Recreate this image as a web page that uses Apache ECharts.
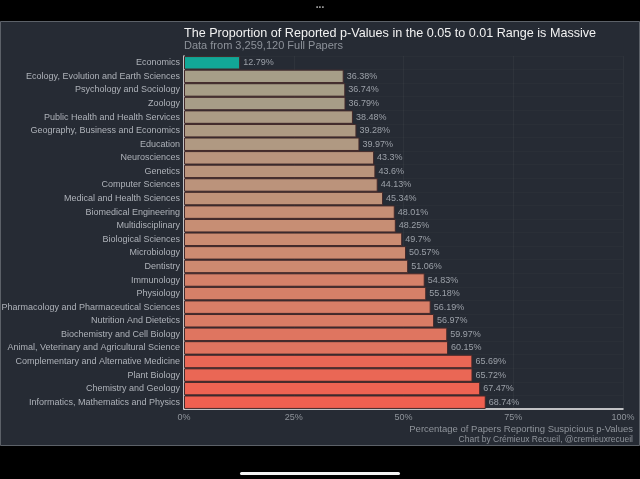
<!DOCTYPE html>
<html>
<head>
<meta charset="utf-8">
<script src="https://cdn.jsdelivr.net/npm/echarts@6/dist/echarts.min.js"></script>
<style>
  html, body { margin: 0; padding: 0; background: #000; }
  #main { width: 640px; height: 479px; }
</style>
</head>
<body>
<div id="main"></div>
<script>
// fields, top to bottom
const fields = [
  'Economics',
  'Ecology, Evolution and Earth Sciences',
  'Psychology and Sociology',
  'Zoology',
  'Public Health and Health Services',
  'Geography, Business and Economics',
  'Education',
  'Neurosciences',
  'Genetics',
  'Computer Sciences',
  'Medical and Health Sciences',
  'Biomedical Engineering',
  'Multidisciplinary',
  'Biological Sciences',
  'Microbiology',
  'Dentistry',
  'Immunology',
  'Physiology',
  'Pharmacology and Pharmaceutical Sciences',
  'Nutrition And Dietetics',
  'Biochemistry and Cell Biology',
  'Animal, Veterinary and Agricultural Science',
  'Complementary and Alternative Medicine',
  'Plant Biology',
  'Chemistry and Geology',
  'Informatics, Mathematics and Physics'
];
const pct = [12.79, 36.38, 36.74, 36.79, 38.48, 39.28, 39.97, 43.3, 43.6, 44.13,
  45.34, 48.01, 48.25, 49.7, 50.57, 51.06, 54.83, 55.18, 56.19, 56.97,
  59.97, 60.15, 65.69, 65.72, 67.47, 68.74];
const xTicks = [0, 25, 50, 75, 100];

// colour ramp: tan -> salmon, economics highlighted
function barColor(v) {
  if (v < 20) return '#12a797';
  const lo = [166, 158, 136], mid = [206, 138, 112], hi = [240, 96, 80];
  let t = (v - 36.38) / (68.74 - 36.38);
  t = Math.max(0, Math.min(1, t));
  let a, b, u;
  if (t < 0.45) { a = lo; b = mid; u = t / 0.45; }
  else { a = mid; b = hi; u = (t - 0.45) / 0.55; }
  const c = a.map((x, i) => Math.round(x + (b[i] - x) * u));
  return 'rgb(' + c.join(',') + ')';
}

let myChart = echarts.init(document.getElementById('main'));
let font = 'Liberation Sans, Arial, sans-serif';
let option = {
  backgroundColor: '#000',
  animation: false,
  textStyle: { fontFamily: font },
  graphic: [
    {
      type: 'rect', z: -10, silent: true,
      shape: { x: 0.5, y: 21.5, width: 639, height: 424 },
      style: { fill: '#262b34', stroke: '#5c6168', lineWidth: 1 }
    },
    {
      type: 'text', left: 'center', top: 0,
      style: { text: '...', fill: '#b0b0b0', font: 'bold 10px ' + font }
    },
    {
      type: 'rect',
      shape: { x: 240, y: 472, width: 160, height: 3, r: 1.5 },
      style: { fill: '#f2f2f2' }
    },
    {
      type: 'text', right: 7, top: 435,
      style: { text: 'Chart by Crémieux Recueil, @cremieuxrecueil', fill: '#8f949b', font: '8.5px ' + font }
    }
  ],
  title: {
    text: 'The Proportion of Reported p-Values in the 0.05 to 0.01 Range is Massive',
    subtext: 'Data from 3,259,120 Full Papers',
    left: 179,
    top: 22,
    itemGap: 0,
    textStyle: { color: '#f2f2f2', fontSize: 12.6, fontWeight: 'normal', fontFamily: font },
    subtextStyle: { color: '#8d929a', fontSize: 11, fontFamily: font }
  },
  grid: { left: 184, right: 17, top: 56, bottom: 70, outerBoundsMode: 'none', containLabel: false },
  xAxis: {
    type: 'value',
    min: 0,
    max: 100,
    interval: 25,
    name: 'Percentage of Papers Reporting Suspicious p-Values',
    nameLocation: 'end',
    nameGap: 0,
    nameTextStyle: {
      color: '#8f949b', fontSize: 9.5, align: 'right', verticalAlign: 'top',
      padding: [15, -10, 0, 0]
    },
    axisLine: { show: true, lineStyle: { color: '#f4f4f4', width: 1.5 } },
    axisTick: { show: false },
    axisLabel: {
      color: '#8f949b', fontSize: 9, margin: 4,
      formatter: v => xTicks.includes(v) ? v + '%' : ''
    },
    splitLine: { show: true, lineStyle: { color: 'rgba(255,255,255,0.04)' } }
  },
  yAxis: {
    type: 'category',
    data: fields,
    inverse: true,
    axisLine: { show: true, lineStyle: { color: '#f4f4f4', width: 1.5 } },
    axisTick: { show: false },
    axisLabel: { color: '#aeb2b9', fontSize: 9, margin: 4 },
    splitLine: { show: true, lineStyle: { color: 'rgba(255,255,255,0.02)' } }
  },
  series: [
    {
      type: 'bar',
      data: pct,
      barCategoryGap: '1%',
      itemStyle: {
        color: p => barColor(p.value),
        borderColor: '#43292a',
        borderWidth: 1
      },
      label: {
        show: true,
        position: 'right',
        distance: 3,
        color: '#9ba0a8',
        fontSize: 9,
        formatter: p => p.value + '%'
      }
    }
  ]
};
option && myChart.setOption(option);
</script>
</body>
</html>
